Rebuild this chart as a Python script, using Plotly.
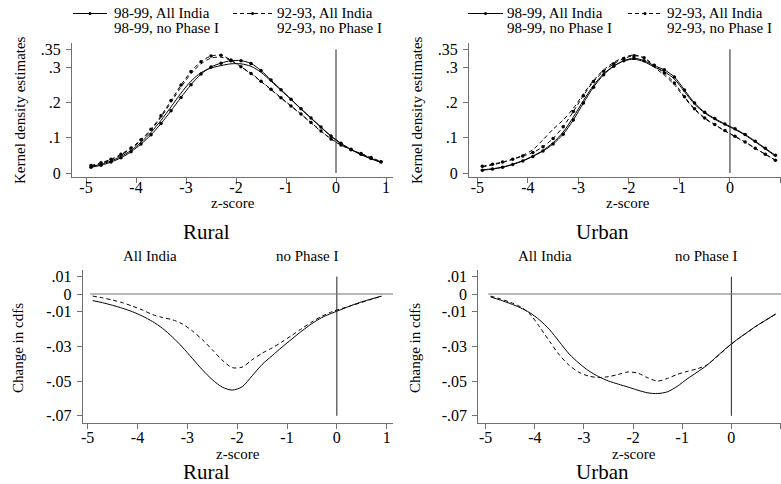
import plotly.graph_objects as go

W, H = 781, 484
FONT = "Liberation Serif"

# z-score grid
Z = [-4.9, -4.7, -4.5, -4.3, -4.1, -3.9, -3.7, -3.5, -3.3, -3.1,
     -2.9, -2.7, -2.5, -2.3, -2.1, -1.9, -1.7, -1.5, -1.3, -1.1,
     -0.9, -0.7, -0.5, -0.3, -0.1, 0.1, 0.3, 0.5, 0.7, 0.9]

# Rural kernel densities
rural_9899_all = [0.016, 0.022, 0.031, 0.043, 0.060, 0.082, 0.108, 0.140, 0.176, 0.214,
                  0.250, 0.280, 0.300, 0.311, 0.318, 0.318, 0.310, 0.290, 0.263, 0.236,
                  0.209, 0.182, 0.156, 0.130, 0.105, 0.084, 0.067, 0.053, 0.041, 0.031]
rural_9293_all = [0.021, 0.029, 0.039, 0.053, 0.071, 0.094, 0.124, 0.162, 0.205, 0.249,
                  0.287, 0.315, 0.331, 0.333, 0.320, 0.301, 0.282, 0.260, 0.237, 0.213,
                  0.190, 0.167, 0.143, 0.119, 0.096, 0.079, 0.066, 0.055, 0.044, 0.032]
rural_9899_nop = [0.018, 0.025, 0.034, 0.047, 0.064, 0.087, 0.115, 0.149, 0.187, 0.226,
                  0.260, 0.284, 0.297, 0.304, 0.309, 0.309, 0.302, 0.285, 0.260, 0.234,
                  0.208, 0.181, 0.155, 0.129, 0.104, 0.083, 0.066, 0.052, 0.040, 0.030]
rural_9293_nop = [0.019, 0.027, 0.037, 0.051, 0.069, 0.092, 0.121, 0.158, 0.200, 0.243,
                  0.281, 0.309, 0.325, 0.328, 0.318, 0.300, 0.281, 0.259, 0.236, 0.212,
                  0.189, 0.166, 0.142, 0.118, 0.097, 0.080, 0.066, 0.054, 0.043, 0.031]

# Urban kernel densities
urban_9899_all = [0.008, 0.011, 0.016, 0.024, 0.034, 0.047, 0.062, 0.082, 0.110, 0.150,
                  0.198, 0.243, 0.278, 0.302, 0.318, 0.325, 0.318, 0.304, 0.292, 0.272,
                  0.235, 0.198, 0.172, 0.154, 0.139, 0.125, 0.109, 0.090, 0.070, 0.050]
urban_9293_all = [0.019, 0.025, 0.031, 0.039, 0.048, 0.058, 0.074, 0.098, 0.131, 0.174,
                  0.219, 0.259, 0.288, 0.309, 0.324, 0.332, 0.326, 0.305, 0.283, 0.255,
                  0.216, 0.182, 0.156, 0.137, 0.120, 0.104, 0.088, 0.070, 0.053, 0.036]
urban_9899_nop = [0.009, 0.012, 0.017, 0.025, 0.035, 0.048, 0.064, 0.086, 0.116, 0.158,
                  0.205, 0.248, 0.281, 0.303, 0.317, 0.322, 0.315, 0.300, 0.287, 0.266,
                  0.230, 0.195, 0.170, 0.152, 0.137, 0.123, 0.107, 0.088, 0.068, 0.048]
urban_9293_nop = [0.017, 0.023, 0.030, 0.039, 0.050, 0.066, 0.094, 0.124, 0.150, 0.183,
                  0.224, 0.262, 0.292, 0.313, 0.327, 0.334, 0.325, 0.300, 0.277, 0.250,
                  0.213, 0.180, 0.154, 0.136, 0.119, 0.103, 0.087, 0.070, 0.053, 0.036]

# Change in cdfs (98-99 minus 92-93)
rural_cdf_all = [-0.0038, -0.0050, -0.0065, -0.0082, -0.0102, -0.0127, -0.0158, -0.0197, -0.0247, -0.0305,
                 -0.0370, -0.0435, -0.0492, -0.0535, -0.0552, -0.0533, -0.0470, -0.0405, -0.0355, -0.0305,
                 -0.0258, -0.0212, -0.0170, -0.0135, -0.0110, -0.0088, -0.0065, -0.0045, -0.0028, -0.0012]
rural_cdf_nop = [-0.0012, -0.0022, -0.0035, -0.0050, -0.0070, -0.0092, -0.0118, -0.0135, -0.0148, -0.0172,
                 -0.0212, -0.0262, -0.0320, -0.0380, -0.0423, -0.0420, -0.0378, -0.0340, -0.0310, -0.0275,
                 -0.0237, -0.0198, -0.0160, -0.0128, -0.0102, -0.0083, -0.0066, -0.0048, -0.0030, -0.0012]
urban_cdf_all = [-0.0017, -0.0035, -0.0055, -0.0078, -0.0108, -0.0150, -0.0205, -0.0275, -0.0345, -0.0398,
                 -0.0442, -0.0475, -0.0500, -0.0518, -0.0535, -0.0553, -0.0568, -0.0572, -0.0562, -0.0530,
                 -0.0488, -0.0450, -0.0410, -0.0360, -0.0310, -0.0265, -0.0225, -0.0185, -0.0150, -0.0115]
urban_cdf_nop = [-0.0012, -0.0028, -0.0048, -0.0072, -0.0115, -0.0190, -0.0272, -0.0350, -0.0410, -0.0450,
                 -0.0472, -0.0480, -0.0475, -0.0462, -0.0448, -0.0455, -0.0482, -0.0500, -0.0485, -0.0462,
                 -0.0445, -0.0430, -0.0408, -0.0362, -0.0312, -0.0266, -0.0226, -0.0186, -0.0151, -0.0116]

x_ticks = [-5, -4, -3, -2, -1, 0, 1]
x_tick_text = ["-5", "-4", "-3", "-2", "-1", "0", "1"]
dens_ticks = [0, 0.1, 0.2, 0.3, 0.35]
dens_tick_text = ["0", ".1", ".2", ".3", ".35"]
cdf_ticks = [-0.07, -0.05, -0.03, -0.01, 0, 0.01]
cdf_tick_text = ["-.07", "-.05", "-.03", "-.01", "0", ".01"]

legend_labels = ["98-99, All India", "92-93, All India", "98-99, no Phase I", "92-93, no Phase I"]
panel_titles = ["Rural", "Urban"]

DASH = "4px,3px"
TICKSIZE = 16
fig = go.Figure()


def add_line(x, y, xa, ya, dash, markers):
    fig.add_trace(go.Scatter(
        x=x, y=y, xaxis=xa, yaxis=ya,
        mode="lines+markers" if markers else "lines",
        line=dict(color="black", width=1, dash=dash, shape="spline", smoothing=0.8),
        marker=dict(color="black", size=3.5, symbol="circle"),
        showlegend=False, hoverinfo="skip", cliponaxis=True))


# Top panels
for (a, b, c, d), xa, ya in [((rural_9899_all, rural_9293_all, rural_9899_nop, rural_9293_nop), "x", "y"),
                             ((urban_9899_all, urban_9293_all, urban_9899_nop, urban_9293_nop), "x2", "y2")]:
    add_line(Z, c, xa, ya, "solid", False)
    add_line(Z, d, xa, ya, DASH, False)
    add_line(Z, a, xa, ya, "solid", True)
    add_line(Z, b, xa, ya, DASH, True)

# Bottom panels
add_line(Z, rural_cdf_all, "x3", "y3", "solid", False)
add_line(Z, rural_cdf_nop, "x3", "y3", DASH, False)
add_line(Z, urban_cdf_all, "x4", "y4", "solid", False)
add_line(Z, urban_cdf_nop, "x4", "y4", DASH, False)

AX = "#707070"


def xax(domain, rng, standoff):
    return dict(domain=domain, range=rng, tickvals=x_ticks, ticktext=x_tick_text, showline=True,
                linecolor=AX, linewidth=1, ticks="outside", ticklen=5, tickcolor=AX, showgrid=False,
                zeroline=False, automargin=False, ticklabelstandoff=standoff,
                tickfont=dict(family=FONT, size=TICKSIZE, color="black"))


def yax(domain, rng, tv, tt, anchor):
    return dict(domain=domain, range=rng, tickvals=tv, ticktext=tt, showline=True, linecolor=AX,
                linewidth=1, ticks="outside", ticklen=5, tickcolor=AX, showgrid=False,
                zeroline=False, anchor=anchor, automargin=False, ticklabelstandoff=2,
                tickfont=dict(family=FONT, size=TICKSIZE, color="black"))


def py(v):
    return 1 - v / H


def px(v):
    return v / W


dens_rng = [-0.0113, 0.368]
cdf_rng = [-0.0743, 0.0138]
fig.update_layout(
    template="none",
    width=W, height=H, margin=dict(l=0, r=0, t=0, b=0, pad=0, autoexpand=False),
    paper_bgcolor="white", plot_bgcolor="white", showlegend=False,
    font=dict(family=FONT, color="black"),
    xaxis=dict(xax([px(72), px(393)], [-5.28, 1.14], -9), anchor="y"),
    yaxis=yax([py(177), py(43)], dens_rng, dens_ticks, dens_tick_text, "x"),
    xaxis2=dict(xax([px(469), 1.0], [-5.164, 1.01], -9), anchor="y2"),
    yaxis2=yax([py(177), py(43)], dens_rng, dens_ticks, dens_tick_text, "x2"),
    xaxis3=dict(xax([px(82.7), px(393)], [-5.1, 1.127], -6), anchor="y3"),
    yaxis3=yax([py(423.3), py(270)], cdf_rng, cdf_ticks, cdf_tick_text, "x3"),
    xaxis4=dict(xax([px(478.3), 1.0], [-5.15, 1.01], -6), anchor="y4"),
    yaxis4=yax([py(423.3), py(270)], cdf_rng, cdf_ticks, cdf_tick_text, "x4"),
)

shapes = []
# reference lines at z = 0
for xr, yr in [("x", "y"), ("x2", "y2")]:
    shapes.append(dict(type="line", xref=xr, yref=yr, x0=0, x1=0, y0=0, y1=0.35,
                       line=dict(color="#222", width=1)))
for xr, yr, xmax in [("x3", "y3", 1.127), ("x4", "y4", 1.01)]:
    shapes.append(dict(type="line", xref=xr, yref=yr, x0=0, x1=0, y0=-0.07, y1=0.01,
                       line=dict(color="#222", width=1)))
    shapes.append(dict(type="line", xref=xr, yref=yr, x0=-4.95, x1=xmax, y0=0, y1=0,
                       line=dict(color="#707070", width=1)))

# legend samples
for xs, xe in [(73, 107), (468, 503)]:
    shapes.append(dict(type="line", xref="paper", yref="paper", x0=px(xs), x1=px(xe),
                       y0=py(13.5), y1=py(13.5), line=dict(color="black", width=1)))
    m = (xs + xe) / 2
    shapes.append(dict(type="circle", xref="paper", yref="paper", x0=px(m - 1.5), x1=px(m + 1.5),
                       y0=py(15), y1=py(12), fillcolor="black", line=dict(color="black", width=0)))
for xs, xe in [(233, 272), (628, 662)]:
    shapes.append(dict(type="line", xref="paper", yref="paper", x0=px(xs), x1=px(xe),
                       y0=py(13.5), y1=py(13.5), line=dict(color="black", width=1, dash=DASH)))
    m = (xs + xe) / 2
    shapes.append(dict(type="circle", xref="paper", yref="paper", x0=px(m - 1.5), x1=px(m + 1.5),
                       y0=py(15), y1=py(12), fillcolor="black", line=dict(color="black", width=0)))
fig.update_layout(shapes=shapes)

ann = []


def text(x, y, s, size=15, xanchor="center", angle=0):
    ann.append(dict(x=px(x), y=py(y), xref="paper", yref="paper", text=s, showarrow=False,
                    xanchor=xanchor, yanchor="middle", textangle=angle,
                    font=dict(family=FONT, size=size, color="black")))


# legends
for off in [0, 393]:
    text(112 + off, 13, legend_labels[0], xanchor="left")
    text(275 + off - (3 if off else 0), 13, legend_labels[1], xanchor="left")
    text(112 + off, 28, legend_labels[2], xanchor="left")
    text(275 + off - (3 if off else 0), 28, legend_labels[3], xanchor="left")

# axis titles
text(233, 203, "z-score")
text(628, 203, "z-score")
text(238, 454, "z-score")
text(634, 454, "z-score")
text(20, 110, "Kernel density estimates", angle=-90)
text(417, 110, "Kernel density estimates", angle=-90)
text(18, 348, "Change in cdfs", angle=-90)
text(415, 348, "Change in cdfs", angle=-90)

# panel titles
text(206, 232, panel_titles[0], size=21)
text(602, 232, panel_titles[1], size=21)
text(206, 472, panel_titles[0], size=21)
text(602, 472, panel_titles[1], size=21)

# subtitles in bottom panels
text(150, 256, "All India")
text(307, 256, "no Phase I")
text(545, 256, "All India")
text(706, 256, "no Phase I")

fig.update_layout(annotations=ann)
fig.write_html("out.html", config={"displayModeBar": False},
               post_script="document.body.style.margin='0';")
